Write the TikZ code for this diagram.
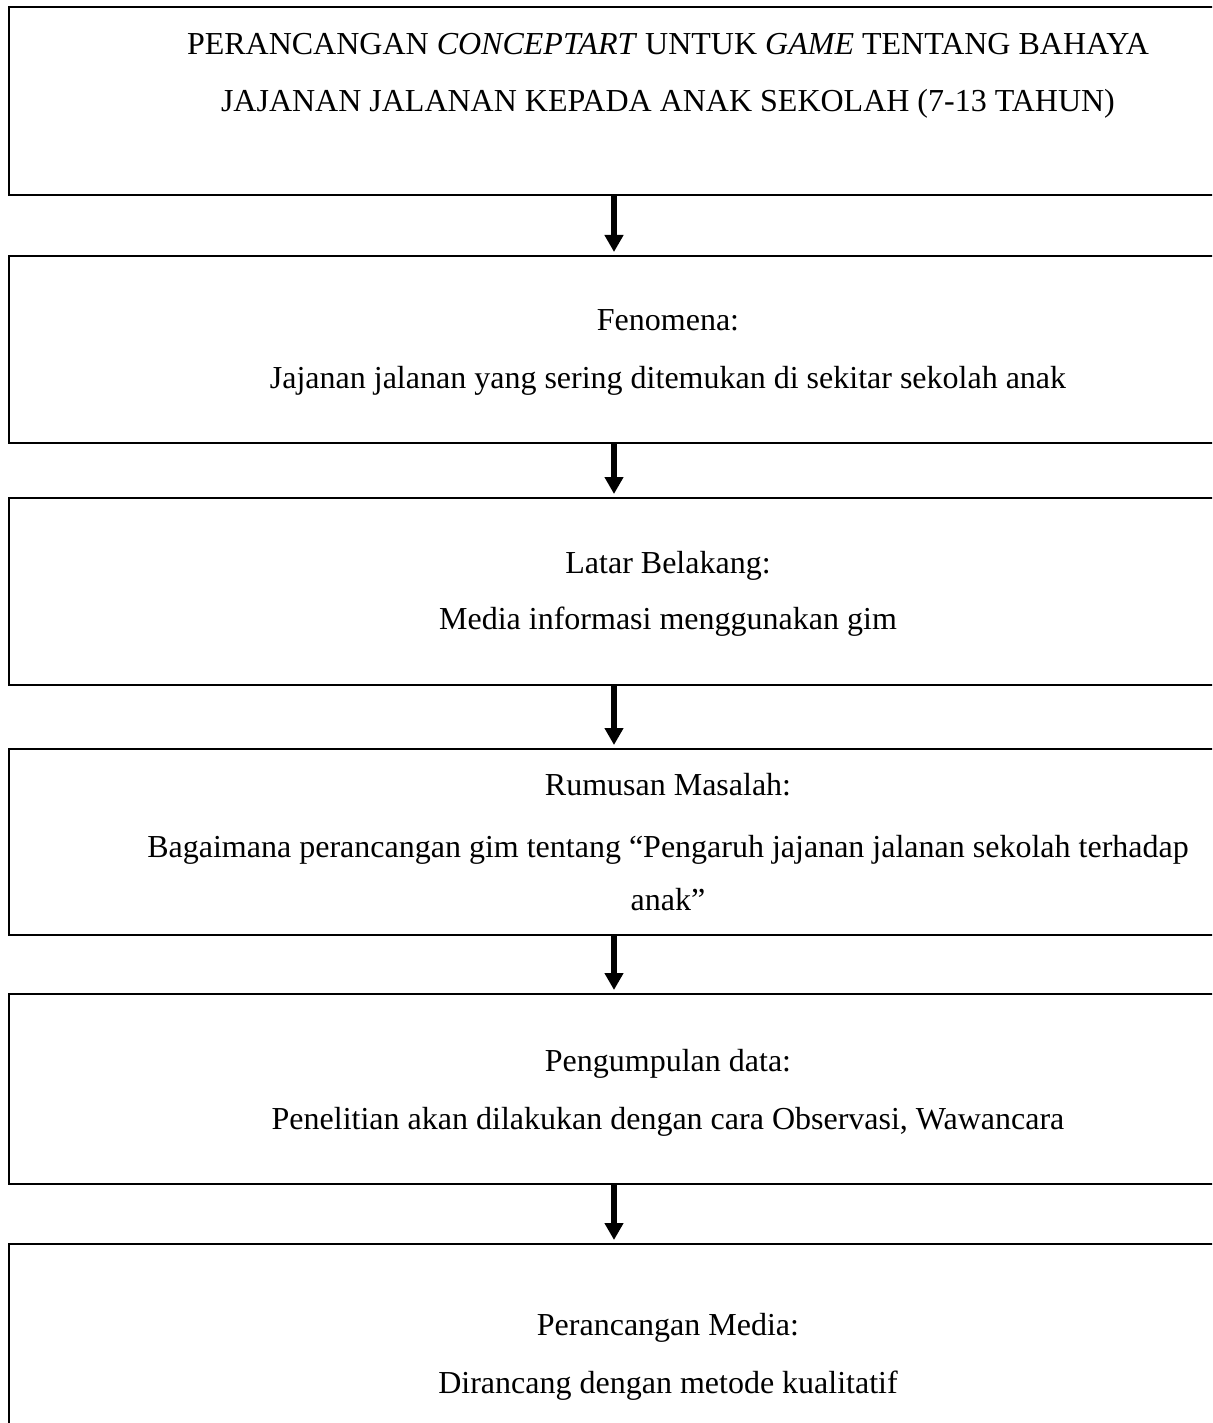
\documentclass[tikz,border=0pt]{standalone}
\usepackage{fontspec}
\setmainfont{Liberation Serif}
\usetikzlibrary{arrows.meta}
\begin{document}
\begin{tikzpicture}[x=0.5pt,y=-0.5pt,
  boxst/.style={draw=black, line width=1.3pt, rectangle, inner sep=0pt, outer sep=0pt,
    minimum width=659pt},
  txt/.style={anchor=base, inner sep=0pt, font=\fontsize{16}{19}\selectfont},
  arr/.style={line width=3pt, -{Triangle[width=9pt,length=8.5pt]}, shorten >=2pt}
]
\fill[white] (0,0) rectangle (1212,1423);
\useasboundingbox (0,0) rectangle (1212,1423);
\clip (0,0) rectangle (1212,1423);
\coordinate (ax) at (614,0);
% boxes
\node[boxst, minimum height=94pt]   (b1) at (668,101) {};
\node[boxst, minimum height=93.5pt] (b2) at (668,349.5) {};
\node[boxst, minimum height=93.5pt] (b3) at (668,591.5) {};
\node[boxst, minimum height=93pt]   (b4) at (668,842) {};
\node[boxst, minimum height=95pt]   (b5) at (668,1089) {};
\node[boxst, minimum height=128pt]  (b6) at (668,1372) {};
% texts
\node[txt] (t1a) at (668,55) {PERANCANGAN \textit{CONCEPTART} UNTUK \textit{GAME} TENTANG BAHAYA};
\node[txt] (t1b) at (668,112) {JAJANAN JALANAN KEPADA ANAK SEKOLAH (7-13 TAHUN)};
\node[txt] (t2a) at (668,330) {Fenomena:};
\node[txt] (t2b) at (668,388) {Jajanan jalanan yang sering ditemukan di sekitar sekolah anak};
\node[txt] (t3a) at (668,573) {Latar Belakang:};
\node[txt] (t3b) at (668,629) {Media informasi menggunakan gim};
\node[txt] (t4a) at (668,795) {Rumusan Masalah:};
\node[txt] (t4b) at (668,857) {Bagaimana perancangan gim tentang “Pengaruh jajanan jalanan sekolah terhadap};
\node[txt] (t4c) at (668,910) {anak”};
\node[txt] (t5a) at (668,1071) {Pengumpulan data:};
\node[txt] (t5b) at (668,1129) {Penelitian akan dilakukan dengan cara Observasi, Wawancara};
\node[txt] (t6a) at (668,1335) {Perancangan Media:};
\node[txt] (t6b) at (668,1393) {Dirancang dengan metode kualitatif};
% arrows
\draw[arr] (b1.south -| ax) -- (b2.north -| ax);
\draw[arr] (b2.south -| ax) -- (b3.north -| ax);
\draw[arr] (b3.south -| ax) -- (b4.north -| ax);
\draw[arr] (b4.south -| ax) -- (b5.north -| ax);
\draw[arr] (b5.south -| ax) -- (b6.north -| ax);
\end{tikzpicture}
\end{document}
